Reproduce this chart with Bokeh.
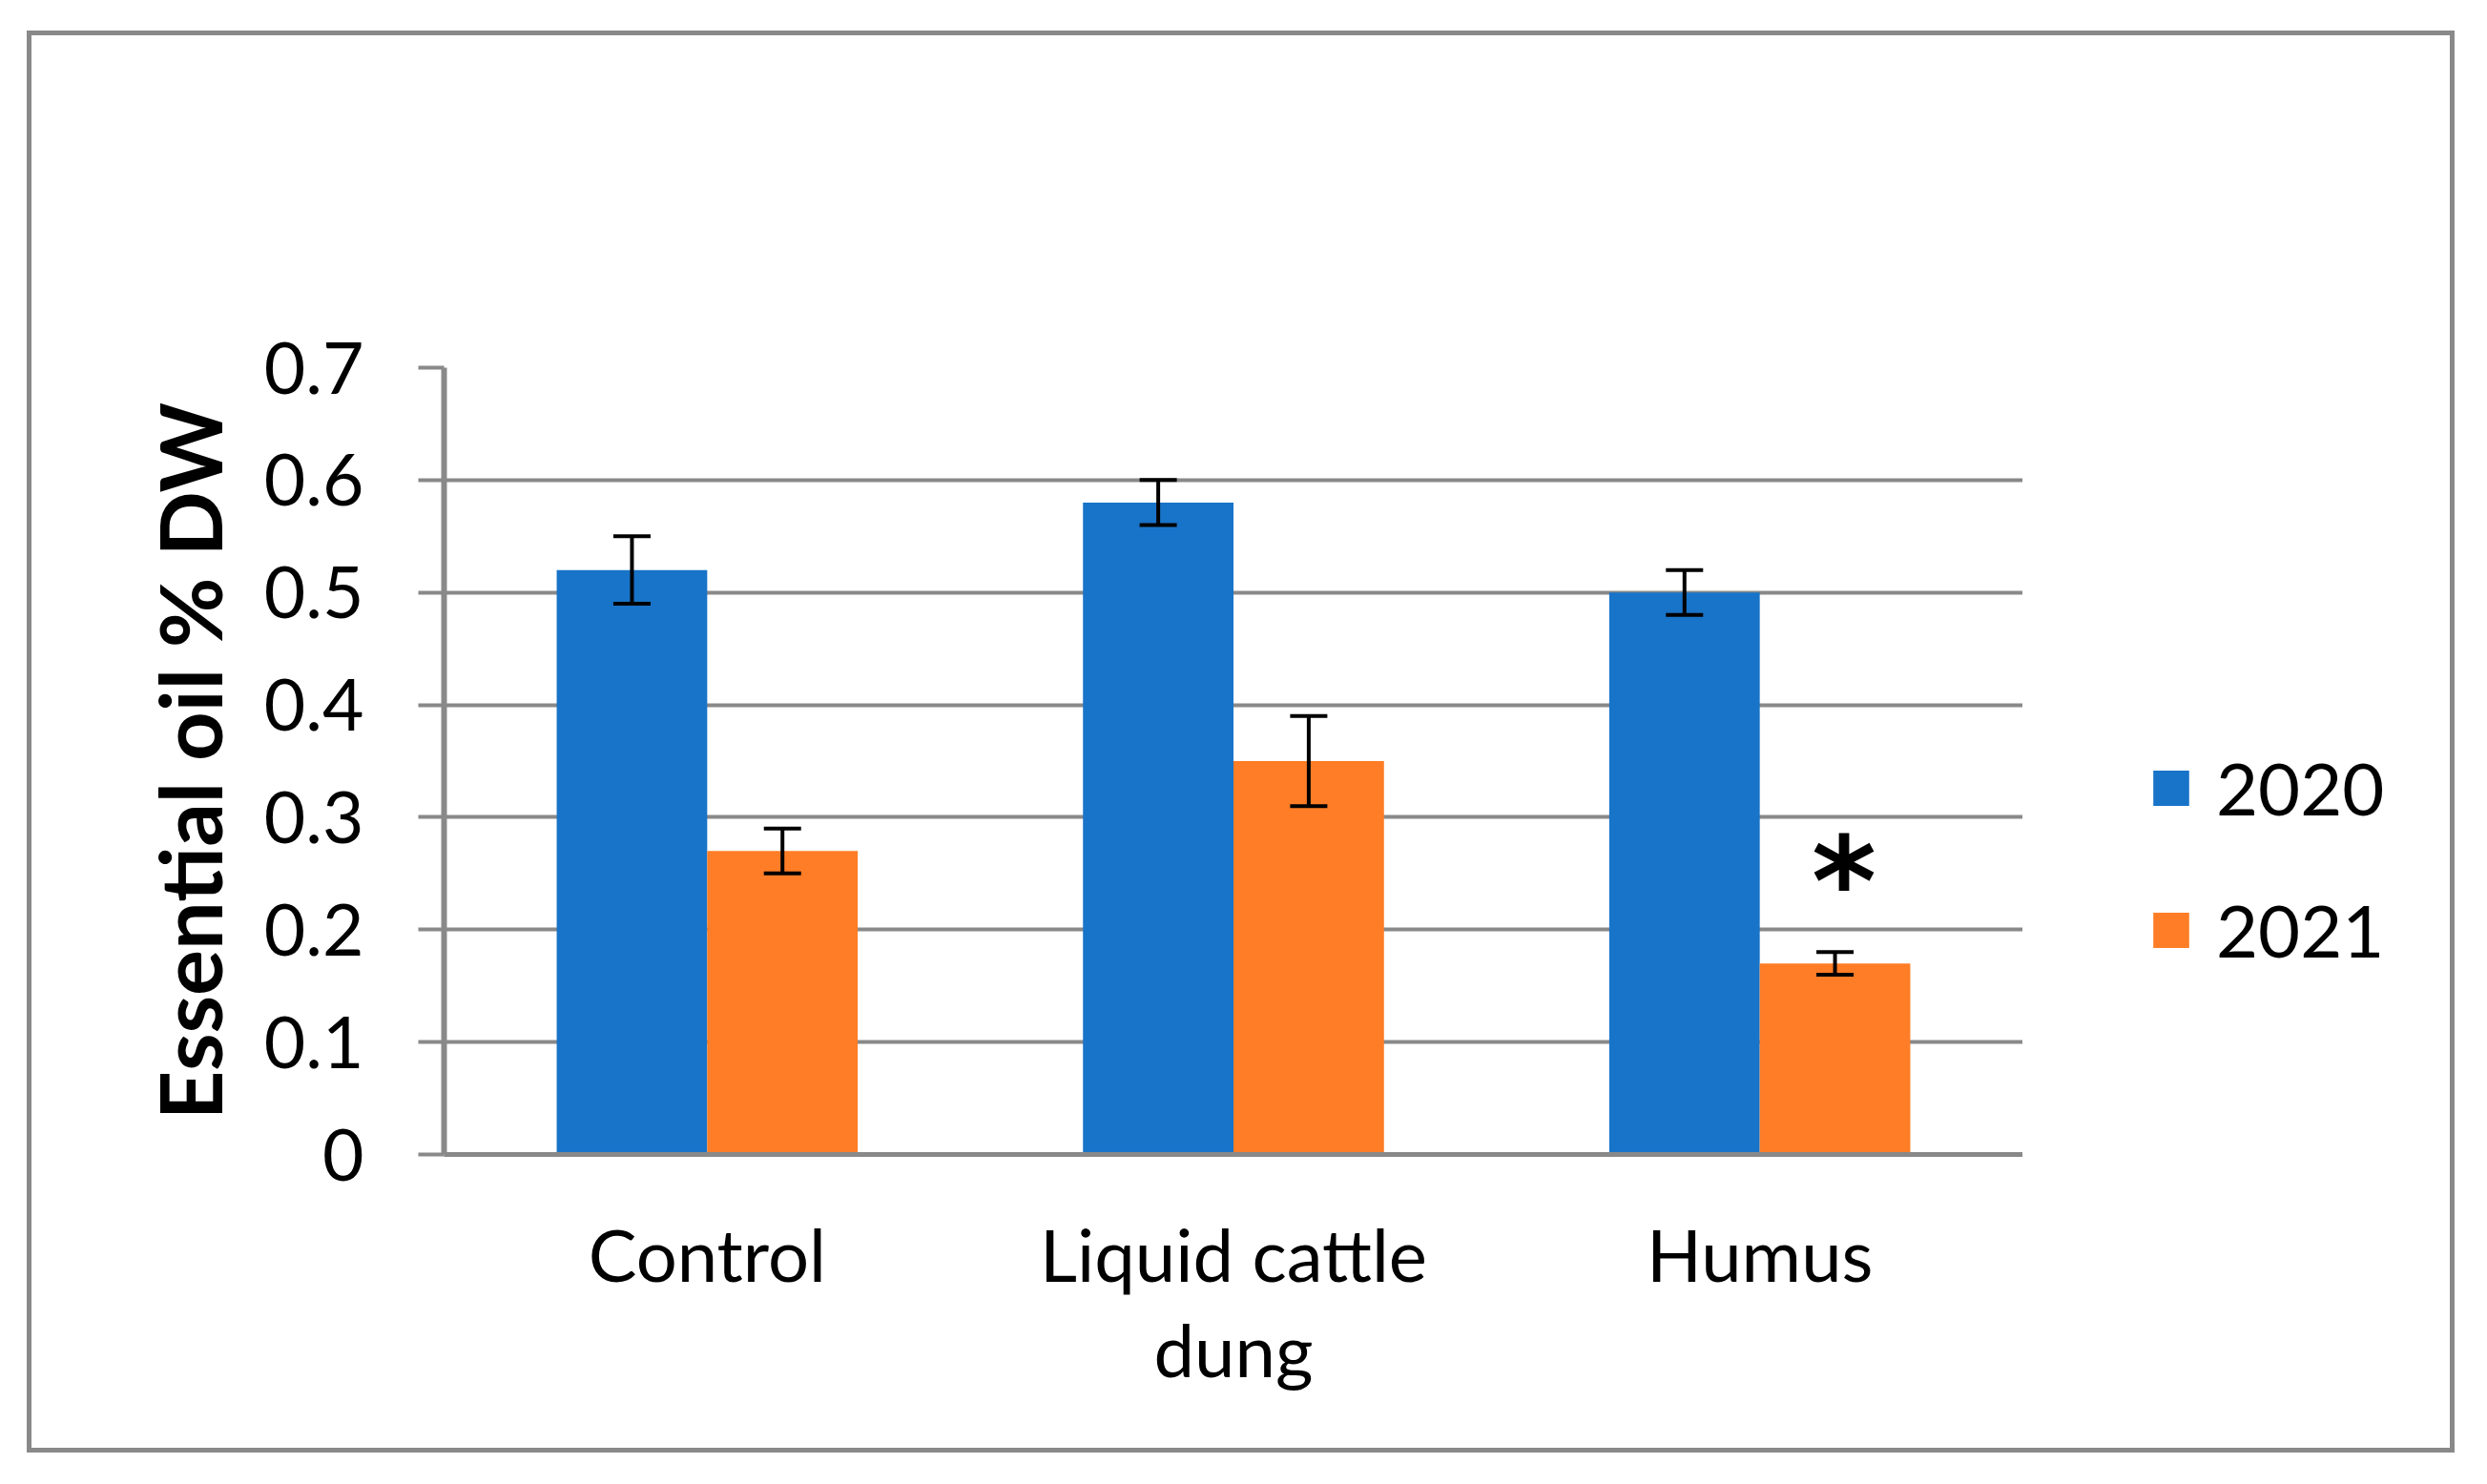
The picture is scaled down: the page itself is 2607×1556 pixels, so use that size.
from bokeh.plotting import figure
from bokeh.models import (ColumnDataSource, FactorRange, Range1d, FixedTicker,
                          NumeralTickFormatter, Whisker, TeeHead, Legend, LegendItem,
                          CategoricalAxis)
from bokeh.layouts import row
from bokeh.transform import dodge
from bokeh.core.properties import value
from bokeh.embed import file_html
from bokeh.resources import INLINE

# ---- data ----
categories = ["Control", "Liquid cattle dung", "Humus"]
label_line1 = ["Control", "Liquid cattle", "Humus"]
label_line2 = [" ", "dung", "  "]
series = ["2020", "2021"]
values_2020 = [0.52, 0.58, 0.50]
errors_2020 = [0.03, 0.02, 0.02]
values_2021 = [0.27, 0.35, 0.17]
errors_2021 = [0.02, 0.04, 0.01]
y_ticks = [0, 0.1, 0.2, 0.3, 0.4, 0.5, 0.6, 0.7]
y_title = "Essential oil % DW"
star_category = ["Humus"]
star_value = [0.242]
star_text = ["*"]

BLUE = "#1874C8"
ORANGE = "#FF7D26"
GRAY = "#898989"
FONT = "Lato"
BORDER = "5px solid " + GRAY

H = 1491
WP, WQ = 2092, 453

# ---- main chart ----
p = figure(x_range=FactorRange(factors=categories, range_padding=0),
           y_range=Range1d(0, 0.7), x_axis_location=None,
           width=WP, height=H, output_backend="svg", toolbar_location=None,
           min_border_left=432, min_border_right=5,
           min_border_top=348, min_border_bottom=318,
           styles={"border-left": BORDER, "border-top": BORDER, "border-bottom": BORDER,
                   "box-sizing": "border-box"})
p.outline_line_color = None
p.background_fill_color = "white"
p.border_fill_color = "white"
p.extra_x_ranges = {"line1": FactorRange(factors=label_line1, range_padding=0),
                    "line2": FactorRange(factors=label_line2, range_padding=0)}

src = ColumnDataSource(dict(cat=categories,
                            v20=values_2020, lo20=[v - e for v, e in zip(values_2020, errors_2020)],
                            hi20=[v + e for v, e in zip(values_2020, errors_2020)],
                            v21=values_2021, lo21=[v - e for v, e in zip(values_2021, errors_2021)],
                            hi21=[v + e for v, e in zip(values_2021, errors_2021)]))

bw = 0.286
off = 0.143
p.vbar(x=dodge("cat", -off, range=p.x_range), top="v20", width=bw, source=src,
       fill_color=BLUE, line_color=None)
p.vbar(x=dodge("cat", off, range=p.x_range), top="v21", width=bw, source=src,
       fill_color=ORANGE, line_color=None)

for lo, hi, o in (("lo20", "hi20", -off), ("lo21", "hi21", off)):
    w = Whisker(source=src, base=dodge("cat", o, range=p.x_range), lower=lo, upper=hi,
                line_color="black", line_width=4, level="overlay",
                upper_head=TeeHead(size=39, line_color="black", line_width=4),
                lower_head=TeeHead(size=39, line_color="black", line_width=4))
    p.add_layout(w)

star_src = ColumnDataSource(dict(cat=star_category, y=star_value, t=star_text))
p.text(x=dodge("cat", 0.16, range=p.x_range), y="y", text="t", source=star_src,
       text_font=value("DejaVu Sans"), text_font_style="bold", text_font_size="130px",
       text_align="center", text_baseline="alphabetic", text_color="black")

for g in p.grid:
    if g.dimension == 0:
        g.grid_line_color = None
    else:
        g.grid_line_color = GRAY
        g.grid_line_width = 4
        g.ticker = FixedTicker(ticks=y_ticks)

ya = p.yaxis[0]
ya.ticker = FixedTicker(ticks=y_ticks)
ya.formatter = NumeralTickFormatter(format="0.[0]")
ya.axis_line_color = GRAY
ya.axis_line_width = 6
ya.major_tick_line_color = GRAY
ya.major_tick_line_width = 4
ya.major_tick_out = 27
ya.major_tick_in = 0
ya.minor_tick_line_color = None
ya.major_label_standoff = 57
ya.major_label_text_font = FONT
ya.major_label_text_font_size = "75px"
ya.major_label_text_color = "black"
ya.axis_label = y_title
ya.axis_label_text_font = FONT
ya.axis_label_text_font_style = "bold"
ya.axis_label_text_font_size = "90px"
ya.axis_label_text_color = "black"
ya.axis_label_standoff = 22

xa = CategoricalAxis(x_range_name="line1", axis_line_color=GRAY, axis_line_width=5,
                     major_tick_line_color=None, minor_tick_line_color=None,
                     major_label_standoff=52, major_label_text_font=FONT,
                     major_label_text_font_size="76px", major_label_text_color="black")
p.add_layout(xa, "below")
xa2 = CategoricalAxis(x_range_name="line2", axis_line_color=None,
                      major_tick_line_color=None, minor_tick_line_color=None,
                      major_label_standoff=0, major_label_text_font=FONT,
                      major_label_text_font_size="76px", major_label_text_color="black")
p.add_layout(xa2, "below")

# ---- legend panel (series renderers placed far outside its visible range) ----
q = figure(x_range=FactorRange(factors=categories), y_range=Range1d(10, 11),
           x_axis_location=None, y_axis_location=None,
           width=WQ, height=H, output_backend="svg", toolbar_location=None,
           min_border=0,
           styles={"border-right": BORDER, "border-top": BORDER, "border-bottom": BORDER,
                   "box-sizing": "border-box"})
q.outline_line_color = None
for g in q.grid:
    g.grid_line_color = None
q.background_fill_color = "white"
q.border_fill_color = "white"
k20 = q.vbar(x=dodge("cat", 20, range=q.x_range), top="v20", bottom="v20", width=0.001,
             source=src, fill_color=BLUE, line_color=None)
k21 = q.vbar(x=dodge("cat", 20, range=q.x_range), top="v21", bottom="v21", width=0.001,
             source=src, fill_color=ORANGE, line_color=None)

legend = Legend(items=[LegendItem(label=series[0], renderers=[k20]),
                       LegendItem(label=series[1], renderers=[k21])],
                location=(132, 190), orientation="vertical",
                glyph_width=47, glyph_height=46, label_standoff=24, spacing=58,
                padding=0, margin=0, border_line_color=None, background_fill_alpha=0,
                label_text_font=FONT, label_text_font_size="76px", label_text_color="black")
q.add_layout(legend, "center")

layout = row(p, q, spacing=0,
             styles={"position": "relative", "left": "28px", "top": "32px"})

open("out.html", "w").write(file_html(layout, INLINE))
